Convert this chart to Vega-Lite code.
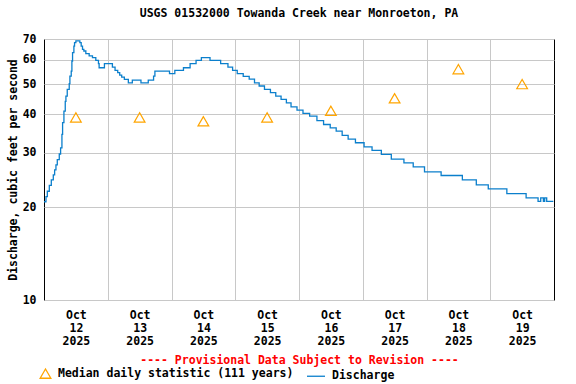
{
  "$schema": "https://vega.github.io/schema/vega-lite/v6.json",
  "width": 510,
  "height": 261,
  "autosize": {"type": "none"},
  "padding": {"left": 44, "top": 39, "right": 22, "bottom": 84},
  "background": "white",
  "title": {"text": "USGS 01532000 Towanda Creek near Monroeton, PA", "font": "DejaVu Sans Mono", "fontSize": 11.5, "fontWeight": "bold", "color": "black", "anchor": "middle", "offset": 14},
  "config": {
    "view": {"stroke": "black", "strokeWidth": 1},
    "axis": {
      "labelFont": "DejaVu Sans Mono", "labelFontWeight": "bold", "labelFontSize": 11.5, "labelColor": "black",
      "titleFont": "DejaVu Sans Mono", "titleFontWeight": "bold", "titleFontSize": 11.5, "titleColor": "black",
      "gridColor": "#c8c8c8", "gridWidth": 1, "gridOpacity": 1,
      "labelFlush": false, "labelOverlap": false, "labelBound": false
    }
  },
  "datasets": {
    "discharge": [
      {"t": "2025-10-12T00:00", "q": 20.8, "series": "Discharge"},
      {"t": "2025-10-12T00:45", "q": 21.6, "series": "Discharge"},
      {"t": "2025-10-12T01:15", "q": 22.5, "series": "Discharge"},
      {"t": "2025-10-12T02:00", "q": 23.5, "series": "Discharge"},
      {"t": "2025-10-12T02:45", "q": 24.5, "series": "Discharge"},
      {"t": "2025-10-12T03:30", "q": 25.4, "series": "Discharge"},
      {"t": "2025-10-12T04:00", "q": 26.4, "series": "Discharge"},
      {"t": "2025-10-12T04:30", "q": 27.4, "series": "Discharge"},
      {"t": "2025-10-12T05:00", "q": 28.5, "series": "Discharge"},
      {"t": "2025-10-12T05:45", "q": 29.7, "series": "Discharge"},
      {"t": "2025-10-12T06:15", "q": 31.1, "series": "Discharge"},
      {"t": "2025-10-12T06:45", "q": 34.4, "series": "Discharge"},
      {"t": "2025-10-12T07:00", "q": 37.5, "series": "Discharge"},
      {"t": "2025-10-12T07:30", "q": 40.9, "series": "Discharge"},
      {"t": "2025-10-12T08:00", "q": 44.0, "series": "Discharge"},
      {"t": "2025-10-12T08:15", "q": 45.7, "series": "Discharge"},
      {"t": "2025-10-12T08:45", "q": 48.1, "series": "Discharge"},
      {"t": "2025-10-12T09:30", "q": 50.2, "series": "Discharge"},
      {"t": "2025-10-12T09:45", "q": 53.1, "series": "Discharge"},
      {"t": "2025-10-12T10:15", "q": 55.1, "series": "Discharge"},
      {"t": "2025-10-12T10:30", "q": 59.4, "series": "Discharge"},
      {"t": "2025-10-12T10:45", "q": 63.2, "series": "Discharge"},
      {"t": "2025-10-12T11:15", "q": 66.4, "series": "Discharge"},
      {"t": "2025-10-12T11:30", "q": 68.1, "series": "Discharge"},
      {"t": "2025-10-12T12:00", "q": 69.0, "series": "Discharge"},
      {"t": "2025-10-12T13:30", "q": 68.1, "series": "Discharge"},
      {"t": "2025-10-12T14:00", "q": 66.4, "series": "Discharge"},
      {"t": "2025-10-12T14:30", "q": 64.8, "series": "Discharge"},
      {"t": "2025-10-12T15:00", "q": 64.0, "series": "Discharge"},
      {"t": "2025-10-12T15:45", "q": 62.8, "series": "Discharge"},
      {"t": "2025-10-12T17:00", "q": 61.7, "series": "Discharge"},
      {"t": "2025-10-12T18:15", "q": 60.9, "series": "Discharge"},
      {"t": "2025-10-12T19:30", "q": 59.7, "series": "Discharge"},
      {"t": "2025-10-12T20:30", "q": 58.3, "series": "Discharge"},
      {"t": "2025-10-12T20:45", "q": 56.5, "series": "Discharge"},
      {"t": "2025-10-12T22:45", "q": 58.3, "series": "Discharge"},
      {"t": "2025-10-13T01:45", "q": 56.8, "series": "Discharge"},
      {"t": "2025-10-13T02:45", "q": 55.4, "series": "Discharge"},
      {"t": "2025-10-13T03:45", "q": 54.5, "series": "Discharge"},
      {"t": "2025-10-13T04:30", "q": 53.5, "series": "Discharge"},
      {"t": "2025-10-13T05:15", "q": 52.7, "series": "Discharge"},
      {"t": "2025-10-13T06:15", "q": 51.8, "series": "Discharge"},
      {"t": "2025-10-13T07:45", "q": 50.5, "series": "Discharge"},
      {"t": "2025-10-13T09:15", "q": 51.5, "series": "Discharge"},
      {"t": "2025-10-13T12:30", "q": 50.5, "series": "Discharge"},
      {"t": "2025-10-13T15:15", "q": 51.5, "series": "Discharge"},
      {"t": "2025-10-13T17:15", "q": 53.1, "series": "Discharge"},
      {"t": "2025-10-13T17:45", "q": 55.1, "series": "Discharge"},
      {"t": "2025-10-13T23:15", "q": 54.1, "series": "Discharge"},
      {"t": "2025-10-14T01:15", "q": 55.4, "series": "Discharge"},
      {"t": "2025-10-14T04:30", "q": 56.5, "series": "Discharge"},
      {"t": "2025-10-14T07:00", "q": 58.3, "series": "Discharge"},
      {"t": "2025-10-14T09:15", "q": 59.7, "series": "Discharge"},
      {"t": "2025-10-14T11:15", "q": 60.9, "series": "Discharge"},
      {"t": "2025-10-14T14:30", "q": 59.7, "series": "Discharge"},
      {"t": "2025-10-14T18:30", "q": 58.3, "series": "Discharge"},
      {"t": "2025-10-14T21:15", "q": 56.8, "series": "Discharge"},
      {"t": "2025-10-14T23:00", "q": 55.4, "series": "Discharge"},
      {"t": "2025-10-15T00:45", "q": 54.1, "series": "Discharge"},
      {"t": "2025-10-15T03:00", "q": 53.0, "series": "Discharge"},
      {"t": "2025-10-15T05:15", "q": 51.9, "series": "Discharge"},
      {"t": "2025-10-15T07:15", "q": 50.5, "series": "Discharge"},
      {"t": "2025-10-15T09:00", "q": 49.3, "series": "Discharge"},
      {"t": "2025-10-15T11:00", "q": 48.1, "series": "Discharge"},
      {"t": "2025-10-15T13:15", "q": 46.9, "series": "Discharge"},
      {"t": "2025-10-15T15:15", "q": 45.7, "series": "Discharge"},
      {"t": "2025-10-15T17:15", "q": 44.6, "series": "Discharge"},
      {"t": "2025-10-15T19:15", "q": 43.5, "series": "Discharge"},
      {"t": "2025-10-15T21:00", "q": 42.2, "series": "Discharge"},
      {"t": "2025-10-15T23:15", "q": 41.2, "series": "Discharge"},
      {"t": "2025-10-16T01:30", "q": 40.2, "series": "Discharge"},
      {"t": "2025-10-16T04:00", "q": 39.4, "series": "Discharge"},
      {"t": "2025-10-16T06:45", "q": 38.1, "series": "Discharge"},
      {"t": "2025-10-16T09:15", "q": 37.0, "series": "Discharge"},
      {"t": "2025-10-16T11:45", "q": 36.1, "series": "Discharge"},
      {"t": "2025-10-16T14:00", "q": 35.2, "series": "Discharge"},
      {"t": "2025-10-16T16:15", "q": 34.1, "series": "Discharge"},
      {"t": "2025-10-16T18:30", "q": 33.2, "series": "Discharge"},
      {"t": "2025-10-16T21:15", "q": 32.3, "series": "Discharge"},
      {"t": "2025-10-17T00:30", "q": 31.3, "series": "Discharge"},
      {"t": "2025-10-17T03:30", "q": 30.5, "series": "Discharge"},
      {"t": "2025-10-17T07:00", "q": 29.6, "series": "Discharge"},
      {"t": "2025-10-17T10:45", "q": 28.6, "series": "Discharge"},
      {"t": "2025-10-17T15:30", "q": 27.8, "series": "Discharge"},
      {"t": "2025-10-17T19:00", "q": 27.0, "series": "Discharge"},
      {"t": "2025-10-17T23:15", "q": 26.0, "series": "Discharge"},
      {"t": "2025-10-18T05:30", "q": 25.3, "series": "Discharge"},
      {"t": "2025-10-18T13:30", "q": 24.5, "series": "Discharge"},
      {"t": "2025-10-18T18:45", "q": 23.6, "series": "Discharge"},
      {"t": "2025-10-18T23:15", "q": 22.9, "series": "Discharge"},
      {"t": "2025-10-19T06:15", "q": 22.1, "series": "Discharge"},
      {"t": "2025-10-19T13:30", "q": 21.4, "series": "Discharge"},
      {"t": "2025-10-19T18:00", "q": 20.85, "series": "Discharge"},
      {"t": "2025-10-19T19:00", "q": 21.4, "series": "Discharge"},
      {"t": "2025-10-19T20:00", "q": 20.85, "series": "Discharge"},
      {"t": "2025-10-19T20:30", "q": 21.4, "series": "Discharge"},
      {"t": "2025-10-19T21:15", "q": 20.85, "series": "Discharge"},
      {"t": "2025-10-19T23:45", "q": 20.85, "series": "Discharge"}
    ],
    "median": [
      {"t": "2025-10-12T12:00", "q": 39.0, "series": "Median daily statistic (111 years)"},
      {"t": "2025-10-13T12:00", "q": 39.0, "series": "Median daily statistic (111 years)"},
      {"t": "2025-10-14T12:00", "q": 37.9, "series": "Median daily statistic (111 years)"},
      {"t": "2025-10-15T12:00", "q": 39.0, "series": "Median daily statistic (111 years)"},
      {"t": "2025-10-16T12:00", "q": 41.0, "series": "Median daily statistic (111 years)"},
      {"t": "2025-10-17T12:00", "q": 45.0, "series": "Median daily statistic (111 years)"},
      {"t": "2025-10-18T12:00", "q": 55.9, "series": "Median daily statistic (111 years)"},
      {"t": "2025-10-19T12:00", "q": 50.0, "series": "Median daily statistic (111 years)"}
    ]
  },
  "layer": [
    {
      "data": {"name": "discharge"},
      "mark": {"type": "line", "interpolate": "step-after", "strokeWidth": 1.3},
      "encoding": {
        "x": {
          "field": "t", "type": "temporal",
          "scale": {"domain": [{"year": 2025, "month": 10, "date": 12}, {"year": 2025, "month": 10, "date": 20}], "nice": false},
          "axis": {
            "orient": "top",
            "values": [
              {"year": 2025, "month": 10, "date": 13}, {"year": 2025, "month": 10, "date": 14},
              {"year": 2025, "month": 10, "date": 15}, {"year": 2025, "month": 10, "date": 16},
              {"year": 2025, "month": 10, "date": 17}, {"year": 2025, "month": 10, "date": 18},
              {"year": 2025, "month": 10, "date": 19}
            ],
            "labels": false, "ticks": false, "tickSize": 0, "domain": false, "grid": true, "title": null
          }
        },
        "y": {
          "field": "q", "type": "quantitative",
          "scale": {"type": "log", "domain": [10, 70], "nice": false, "zero": false},
          "axis": {
            "values": [10, 20, 30, 40, 50, 60, 70], "format": "d",
            "ticks": false, "tickSize": 0, "domain": false, "grid": true,
            "labelPadding": 8, "title": "Discharge, cubic feet per second", "titlePadding": 4
          }
        },
        "color": {
          "field": "series", "type": "nominal",
          "scale": {"domain": ["Median daily statistic (111 years)", "Discharge"], "range": ["#ffa500", "#0b7fcc"]},
          "legend": {
            "orient": "none", "legendX": -5, "legendY": 327, "direction": "horizontal", "title": null,
            "labelFont": "DejaVu Sans Mono", "labelFontWeight": "bold", "labelFontSize": 11.5, "labelColor": "black",
            "labelOffset": 6, "labelLimit": 400, "symbolStrokeWidth": 1.3, "padding": 0, "columnPadding": 10
          }
        }
      }
    },
    {
      "data": {"name": "median"},
      "mark": {"type": "point", "filled": false, "strokeWidth": 1.2, "opacity": 1},
      "encoding": {
        "x": {
          "field": "t", "type": "temporal",
          "axis": {
            "orient": "bottom",
            "values": [
              {"year": 2025, "month": 10, "date": 12, "hours": 12}, {"year": 2025, "month": 10, "date": 13, "hours": 12},
              {"year": 2025, "month": 10, "date": 14, "hours": 12}, {"year": 2025, "month": 10, "date": 15, "hours": 12},
              {"year": 2025, "month": 10, "date": 16, "hours": 12}, {"year": 2025, "month": 10, "date": 17, "hours": 12},
              {"year": 2025, "month": 10, "date": 18, "hours": 12}, {"year": 2025, "month": 10, "date": 19, "hours": 12}
            ],
            "labelExpr": "[timeFormat(datum.value, '%b'), timeFormat(datum.value, '%d'), timeFormat(datum.value, '%Y')]",
            "labelLineHeight": 13, "labelPadding": 9, "labelAlign": "center",
            "ticks": false, "tickSize": 0, "domain": false, "grid": false,
            "title": "---- Provisional Data Subject to Revision ----", "titleColor": "#ff0000", "titlePadding": 8
          }
        },
        "y": {"field": "q", "type": "quantitative"},
        "color": {
          "field": "series", "type": "nominal",
          "legend": {
            "orient": "none", "legendX": -5, "legendY": 327, "direction": "horizontal", "title": null,
            "labelFont": "DejaVu Sans Mono", "labelFontWeight": "bold", "labelFontSize": 11.5, "labelColor": "black",
            "labelOffset": 6, "labelLimit": 400, "symbolStrokeWidth": 1.3, "padding": 0, "columnPadding": 10
          }
        },
        "shape": {
          "field": "series", "type": "nominal",
          "scale": {"domain": ["Median daily statistic (111 years)", "Discharge"], "range": ["triangle-up", "stroke"]},
          "legend": {
            "orient": "none", "legendX": -5, "legendY": 327, "direction": "horizontal", "title": null,
            "labelFont": "DejaVu Sans Mono", "labelFontWeight": "bold", "labelFontSize": 11.5, "labelColor": "black",
            "labelOffset": 6, "labelLimit": 400, "symbolStrokeWidth": 1.3, "padding": 0, "columnPadding": 10
          }
        },
        "size": {
          "field": "series", "type": "ordinal",
          "scale": {"domain": ["Median daily statistic (111 years)", "Discharge"], "range": [115, 324]},
          "legend": {
            "orient": "none", "legendX": -5, "legendY": 327, "direction": "horizontal", "title": null,
            "labelFont": "DejaVu Sans Mono", "labelFontWeight": "bold", "labelFontSize": 11.5, "labelColor": "black",
            "labelOffset": 6, "labelLimit": 400, "symbolStrokeWidth": 1.3, "padding": 0, "columnPadding": 10
          }
        }
      }
    }
  ],
  "resolve": {"axis": {"x": "independent"}}
}
